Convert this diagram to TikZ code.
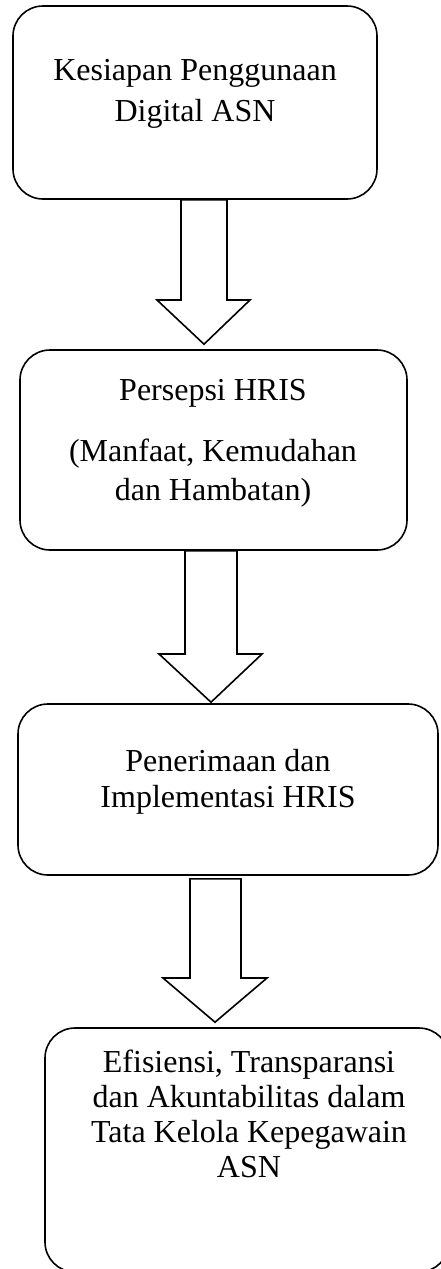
\documentclass[tikz,border=0pt]{standalone}
\usepackage{fontspec}
\setmainfont{Liberation Serif}
\usetikzlibrary{calc}
\tikzset{
  stagebox/.style={draw, line width=1.6pt, rounded corners=30pt, inner sep=0pt, fill=white},
  stagetext/.style={align=center, anchor=base, inner sep=0pt},
  blockarrow/.style={draw, line width=1.6pt, fill=white, line join=miter},
}
\begin{document}
\begin{tikzpicture}[x=1pt,y=-1pt]
\clip (0,0) rectangle (441,1269);
\fill[white] (0,0) rectangle (441,1269);

% boxes
\node[stagebox, minimum width=364pt, minimum height=193pt] (b1) at (195,102.5) {};
\node[stagebox, minimum width=387pt, minimum height=200pt] (b2) at (213.5,450) {};
\node[stagebox, minimum width=420pt, minimum height=171pt] (b3) at (228,789.5) {};
\node[stagebox, minimum width=404pt, minimum height=244pt] (b4) at (247,1150) {};

% texts (anchor base = baseline of last line)
\node[stagetext, font=\fontsize{32}{41}\selectfont] (t1) at (195,121) {Kesiapan Penggunaan\\Digital ASN};
\node[stagetext, font=\fontsize{32}{39}\selectfont] (t2) at (213,500) {Persepsi HRIS\\[22pt](Manfaat, Kemudahan\\dan Hambatan)};
\node[stagetext, font=\fontsize{32}{36}\selectfont] (t3) at (228,807) {Penerimaan dan\\Implementasi HRIS};
\node[stagetext, font=\fontsize{32}{35}\selectfont] (t4) at (249,1177) {Efisiensi, Transparansi\\dan Akuntabilitas dalam\\Tata Kelola Kepegawain\\ASN};

% block arrows
\draw[blockarrow] let \p1=(b1.south), \p2=(b2.north) in
  (181,\y1) -- (227,\y1) -- (227,300) -- (250,300) -- (204,\y2+5pt) -- (157,300) -- (181,300) -- cycle;
\draw[blockarrow] let \p1=(b2.south), \p2=(b3.north) in
  (185,\y1) -- (237,\y1) -- (237,654) -- (262,654) -- (211,\y2+1pt) -- (159,654) -- (185,654) -- cycle;
\draw[blockarrow] let \p1=(b3.south), \p2=(b4.north) in
  (190,\y1-3pt) -- (241,\y1-3pt) -- (241,978) -- (267,978) -- (215,\y2+5pt) -- (163,978) -- (190,978) -- cycle;
\end{tikzpicture}
\end{document}
